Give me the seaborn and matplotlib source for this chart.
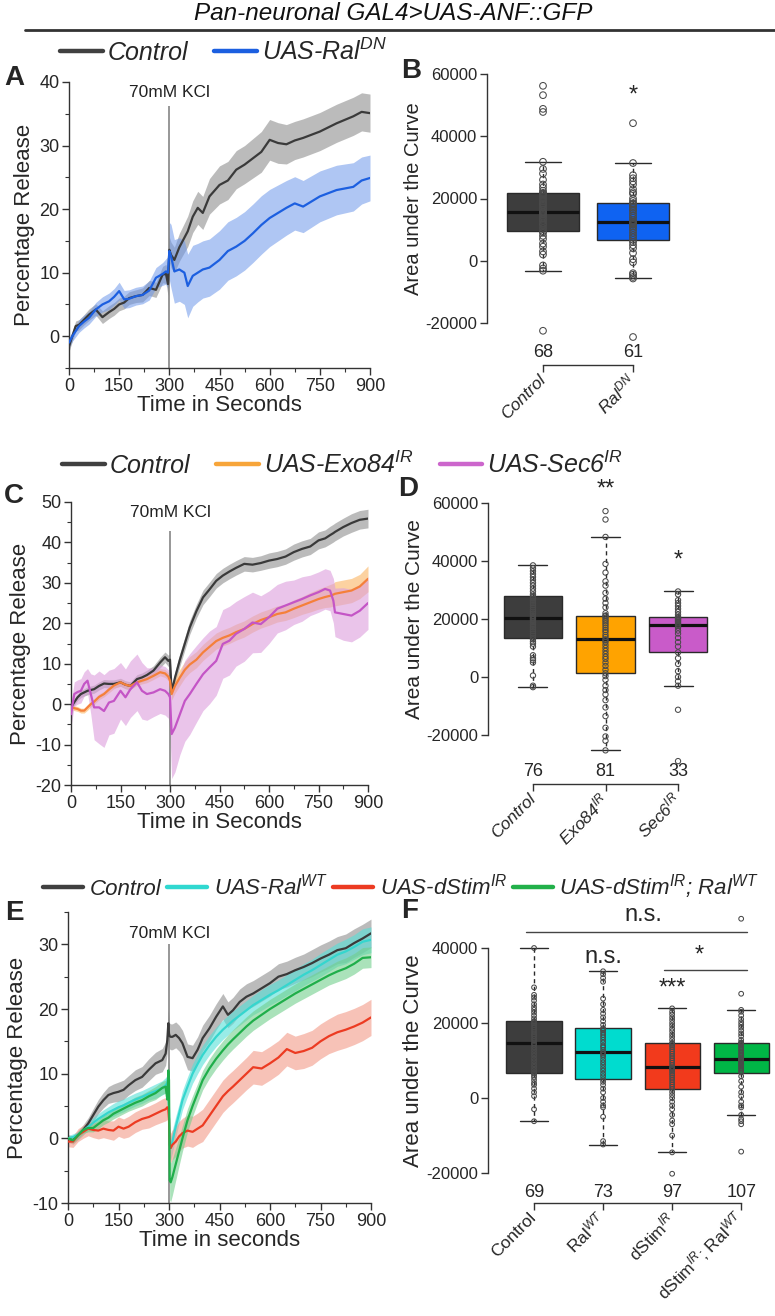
import numpy as np
import pandas as pd
import matplotlib
matplotlib.use("Agg")
import matplotlib.pyplot as plt
from matplotlib.lines import Line2D
from matplotlib.font_manager import FontProperties
import seaborn as sns

sns.set_style("ticks")
plt.rcParams["font.family"] = ["Liberation Sans", "DejaVu Sans"]
plt.rcParams["mathtext.fontset"] = "custom"
plt.rcParams["mathtext.rm"] = "Liberation Sans"
plt.rcParams["mathtext.it"] = "Liberation Sans:italic"
plt.rcParams["mathtext.bf"] = "Liberation Sans:bold"
plt.rcParams["axes.unicode_minus"] = False

# ---------------- data ----------------
KCL_TIME = 300
TIME_TICKS = [0, 150, 300, 450, 600, 750, 900]

# Panel A
A_time = [0, 10, 20, 30, 45, 60, 80, 100, 120, 135, 150, 165, 180, 200, 220, 240, 260, 280, 290, 296,
          300, 305, 315, 330, 345, 355, 370, 385, 400, 420, 450, 475, 500, 525, 550, 575, 600, 625, 650,
          675, 700, 750, 800, 850, 875, 900]
A_ctrl_mean = [-1.6, 0.0, 1.6, 1.8, 2.6, 3.4, 4.2, 3.0, 3.8, 4.3, 5.0, 5.3, 6.0, 6.3, 6.5, 7.6, 7.3, 9.7, 9.8, 8.2,
               13.6, 12.8, 12.0, 14.0, 15.5, 16.5, 18.8, 20.2, 19.4, 22.0, 23.8, 24.5, 26.2, 27.0, 28.0, 29.0,
               30.9, 30.4, 30.2, 30.8, 31.2, 32.2, 33.5, 34.6, 35.3, 35.1]
A_ctrl_sem = [0.8, 0.8, 0.8, 0.8, 0.8, 0.9, 0.9, 1.0, 1.0, 1.0, 1.0, 1.0, 1.0, 1.0, 1.1, 1.2, 1.2, 1.3, 1.5, 1.8,
              2.0, 2.0, 2.0, 2.2, 2.3, 2.4, 2.5, 2.6, 2.6, 2.8, 3.0, 3.0, 3.0, 3.0, 3.1, 3.2, 3.2, 3.2, 3.1,
              3.0, 3.0, 3.0, 3.0, 3.0, 3.0, 3.0]
A_raldn_mean = [-1.0, 0.0, 0.8, 1.6, 2.3, 2.9, 4.2, 5.0, 5.5, 6.2, 7.1, 5.8, 5.9, 6.3, 6.5, 7.2, 9.2, 9.8, 10.2, 10.0,
                13.4, 12.6, 10.2, 10.5, 10.0, 7.9, 9.5, 10.0, 10.5, 10.8, 12.0, 13.4, 14.1, 15.0, 16.2, 17.5,
                18.6, 19.4, 20.2, 20.9, 20.4, 22.0, 23.0, 23.5, 24.5, 24.9]
A_raldn_sem = [0.8, 0.8, 0.9, 1.0, 1.0, 1.0, 1.1, 1.2, 1.3, 1.3, 1.4, 1.4, 1.4, 1.4, 1.4, 1.5, 1.6, 1.8, 2.0, 2.5,
               4.5, 5.0, 5.0, 5.0, 5.0, 5.0, 4.8, 4.6, 4.5, 4.5, 4.6, 4.6, 4.6, 4.6, 4.6, 4.6, 4.5, 4.4, 4.3,
               4.2, 4.1, 4.0, 3.9, 3.8, 3.7, 3.6]

# Panel C
C_time = [0, 10, 20, 30, 40, 50, 60, 70, 85, 100, 115, 130, 150, 165, 180, 200, 215, 230, 250, 270, 285, 295,
          300, 305, 315, 330, 345, 360, 380, 400, 420, 440, 460, 480, 500, 525, 550, 575, 600, 625, 650, 675,
          700, 725, 750, 770, 785, 795, 800, 825, 850, 875, 900]
C_ctrl_mean = [-0.8, 0.5, 1.7, 2.5, 2.9, 3.3, 3.5, 3.7, 4.5, 5.1, 5.0, 5.0, 5.4, 4.8, 4.5, 6.2, 6.6, 7.2, 8.3, 10.3,
               11.6, 10.7, 11.0, 3.0, 6.5, 11.0, 15.0, 19.0, 23.0, 26.4, 28.4, 30.5, 31.8, 32.8, 33.7, 34.7,
               34.5, 34.9, 35.5, 35.9, 36.5, 37.6, 38.4, 39.0, 40.5, 41.0, 41.8, 42.3, 42.6, 43.8, 44.8, 45.6, 45.9]
C_ctrl_sem = [0.8, 0.8, 0.8, 0.9, 0.9, 1.0, 1.0, 1.0, 1.0, 1.0, 1.0, 1.0, 1.0, 1.0, 1.0, 1.1, 1.1, 1.2, 1.2, 1.3,
              1.3, 1.4, 1.5, 1.5, 1.5, 1.6, 1.6, 1.7, 1.7, 1.8, 1.8, 1.8, 1.8, 1.8, 1.8, 1.8, 1.8, 1.8, 1.9,
              1.9, 1.9, 2.0, 2.0, 2.0, 2.1, 2.1, 2.2, 2.2, 2.2, 2.2, 2.3, 2.3, 2.3]
C_exo_mean = [-0.8, -1.0, -1.2, -1.6, -1.6, -0.8, 0.0, 0.6, 1.8, 2.5, 3.6, 4.6, 5.4, 4.8, 4.5, 5.4, 5.8, 6.2, 7.0,
              7.9, 7.6, 6.8, 5.8, 2.5, 4.5, 6.6, 8.5, 9.8, 11.0, 12.8, 14.2, 15.6, 16.4, 17.0, 17.8, 18.6, 19.8,
              20.8, 21.5, 22.3, 22.7, 23.6, 24.4, 25.2, 26.0, 26.5, 26.8, 27.1, 27.3, 27.7, 28.1, 29.1, 31.0]
C_exo_sem = [0.6, 0.6, 0.6, 0.6, 0.6, 0.7, 0.7, 0.7, 0.7, 0.7, 0.8, 0.8, 0.8, 0.8, 0.8, 0.8, 0.8, 0.9, 0.9, 0.9,
             1.0, 1.0, 1.2, 1.5, 1.8, 2.0, 2.0, 2.0, 2.0, 2.0, 2.0, 2.0, 2.0, 2.0, 2.0, 2.0, 2.0, 2.0, 2.0,
             2.0, 2.0, 2.2, 2.2, 2.4, 2.5, 2.6, 2.8, 2.8, 3.0, 3.0, 3.0, 3.0, 3.2]
C_sec_mean = [-2.5, 2.5, 3.0, 3.3, 5.0, 5.8, 2.5, -0.8, -0.8, -1.7, 0.4, 0.8, 3.3, 1.7, 3.7, 5.4, 3.3, 2.5, 2.9,
              3.7, 3.3, 2.5, 1.7, -7.4, -5.8, -2.5, 0.8, 2.5, 5.0, 7.4, 9.1, 10.7, 14.9, 15.7, 17.4, 18.6, 20.2,
              19.8, 21.5, 23.6, 24.4, 25.2, 26.0, 26.9, 27.7, 28.5, 28.1, 25.6, 22.7, 22.3, 21.9, 23.1, 25.0]
C_sec_sem = [3, 3, 3, 3, 3, 3, 5, 8, 9, 9, 8, 8, 7, 7, 7, 7, 7, 6.5, 6, 6, 6, 6, 9, 11, 11, 10, 10, 10, 9.5, 9,
             9, 8.5, 8.5, 8.5, 8, 8, 7.5, 7, 6.5, 6, 6, 5.5, 5.5, 5, 5, 5, 5, 5.5, 6, 6.5, 6.5, 6.5, 6.5]

# Panel E
E_time = [0, 15, 30, 45, 60, 75, 90, 105, 120, 135, 150, 165, 180, 200, 220, 240, 260, 280, 290, 295, 298, 300,
          302, 305, 310, 320, 330, 340, 355, 370, 385, 400, 420, 440, 460, 475, 490, 510, 530, 550, 575, 600,
          625, 650, 675, 700, 725, 750, 775, 800, 825, 850, 875, 900]
E_ctrl_mean = [0.0, -0.3, 0.5, 1.3, 2.3, 3.6, 4.9, 5.9, 6.7, 7.0, 7.2, 7.5, 8.2, 9.0, 9.5, 10.6, 11.6, 12.1, 13.1,
               15.2, 17.8, 16.2, 15.8, 15.7, 15.7, 16.0, 15.5, 14.7, 12.6, 12.4, 13.7, 15.5, 17.0, 18.8, 20.4,
               19.1, 19.8, 21.1, 21.9, 22.4, 23.2, 24.0, 25.0, 25.4, 26.0, 26.5, 27.1, 27.8, 28.4, 29.1, 29.4,
               30.2, 30.9, 31.7]
E_ctrl_sem = [0.6, 0.6, 0.7, 0.8, 0.9, 1.0, 1.1, 1.2, 1.3, 1.4, 1.5, 1.5, 1.5, 1.6, 1.6, 1.7, 1.7, 1.8, 1.8, 1.9,
              2.0, 2.0, 2.0, 2.0, 2.0, 2.0, 2.0, 2.0, 2.0, 2.0, 2.0, 2.0, 2.0, 2.0, 2.0, 2.0, 2.0, 2.0, 2.0,
              2.0, 2.0, 2.0, 2.0, 2.0, 2.0, 2.0, 2.1, 2.1, 2.1, 2.1, 2.2, 2.2, 2.2, 2.2]
E_ralwt_mean = [0.0, 0.2, 0.6, 1.2, 1.8, 2.4, 3.0, 3.5, 4.0, 4.4, 4.8, 5.1, 5.5, 6.0, 6.4, 6.9, 7.3, 7.8, 8.2, 8.6,
                9.5, 4.0, -1.0, -1.5, -0.5, 1.8, 3.8, 5.9, 8.0, 10.0, 11.5, 12.9, 14.4, 15.7, 16.8, 17.5, 18.2,
                19.0, 19.8, 20.6, 21.4, 22.2, 22.9, 23.7, 24.5, 25.3, 26.0, 26.8, 27.6, 28.4, 28.9, 29.6, 30.4,
                30.7]
E_ralwt_sem = [0.4, 0.5, 0.5, 0.6, 0.7, 0.8, 0.8, 0.9, 0.9, 1.0, 1.0, 1.0, 1.0, 1.0, 1.0, 1.0, 1.1, 1.1, 1.2, 1.2,
               1.3, 1.5, 1.8, 1.8, 1.8, 1.6, 1.5, 1.5, 1.5, 1.5, 1.5, 1.5, 1.5, 1.5, 1.5, 1.5, 1.5, 1.5, 1.5,
               1.5, 1.6, 1.6, 1.6, 1.6, 1.7, 1.7, 1.7, 1.8, 1.8, 1.8, 1.9, 1.9, 2.0, 2.0]
E_dstim_mean = [-0.5, -0.5, 0.5, 1.0, 1.5, 1.3, 1.2, 1.5, 1.3, 1.2, 1.8, 1.5, 1.8, 2.5, 3.0, 3.3, 3.8, 4.3, 4.5, 4.8,
                4.5, 3.0, -1.0, -1.5, -1.0, -0.5, 0.3, 0.8, 1.2, 1.0, 1.5, 2.0, 3.5, 5.0, 6.5, 7.3, 8.0, 9.0,
                10.0, 11.0, 10.8, 11.6, 12.5, 13.8, 13.2, 13.5, 14.0, 15.0, 15.8, 16.4, 16.8, 17.3, 17.9, 18.7]
E_dstim_sem = [0.8, 0.9, 1.0, 1.0, 1.1, 1.2, 1.3, 1.4, 1.4, 1.5, 1.5, 1.5, 1.6, 1.6, 1.6, 1.7, 1.7, 1.8, 1.8, 1.9,
               2.0, 2.0, 2.2, 2.3, 2.3, 2.3, 2.3, 2.3, 2.4, 2.4, 2.4, 2.5, 2.5, 2.5, 2.5, 2.5, 2.5, 2.5, 2.5,
               2.6, 2.6, 2.6, 2.6, 2.6, 2.6, 2.7, 2.7, 2.7, 2.7, 2.8, 2.8, 2.8, 2.8, 2.8]
E_dstimral_mean = [0.0, -0.3, 0.5, 1.3, 1.6, 1.6, 2.2, 2.8, 3.2, 3.8, 4.2, 4.6, 5.0, 5.5, 5.9, 6.5, 7.0, 7.8, 8.0,
                   6.0, 10.5, 9.0, -6.5, -6.8, -6.0, -4.0, -2.0, 0.0, 2.8, 5.0, 7.0, 9.0, 10.8, 12.3, 13.6, 14.5,
                   15.3, 16.3, 17.3, 18.2, 19.1, 20.0, 20.8, 21.6, 22.4, 23.1, 23.8, 24.5, 25.2, 25.8, 26.3,
                   27.0, 27.9, 28.0]
E_dstimral_sem = [0.4, 0.4, 0.5, 0.5, 0.6, 0.6, 0.7, 0.7, 0.7, 0.8, 0.8, 0.8, 0.8, 0.9, 0.9, 0.9, 1.0, 1.0, 1.0,
                  1.2, 1.5, 2.0, 3.0, 3.0, 2.8, 2.5, 2.2, 2.0, 1.8, 1.6, 1.5, 1.5, 1.5, 1.5, 1.5, 1.5, 1.5, 1.5,
                  1.5, 1.5, 1.5, 1.5, 1.5, 1.5, 1.5, 1.5, 1.5, 1.5, 1.5, 1.6, 1.6, 1.6, 1.6, 1.6]

# Box panels: area under the curve, in thousands
B_control = [-22.5, -3.2, -2.5, -1.5, 2.0, 3.0, 4.5, 5.5, 7.0, 8.0, 9.0, 9.5, 10.5, 11.5, 12.0, 12.8, 13.5, 14.2,
             14.8, 15.2, 15.5, 15.7, 15.8, 16.5, 17.2, 18.0, 18.5, 19.2, 19.8, 20.5, 21.0, 21.3, 21.6, 21.8,
             22.5, 23.5, 24.5, 26.0, 28.0, 29.5, 31.8, 47.8, 48.8, 53.2, 56.2]
B_raldn = [-24.5, -5.7, -5.2, -4.5, -4.0, -0.5, 0.5, 2.5, 4.0, 5.0, 6.0, 6.7, 7.5, 8.2, 9.0, 9.8, 10.5, 11.0, 11.5,
           11.8, 12.0, 12.3, 12.5, 13.0, 13.8, 14.5, 15.2, 16.0, 16.5, 17.0, 17.5, 18.0, 18.3, 18.5, 19.2, 20.0,
           21.5, 22.0, 23.0, 24.5, 25.5, 26.5, 27.5, 31.4, 44.2]
D_control = [-3.5, -3.0, 0.5, 5.0, 5.8, 6.5, 7.5, 10.5, 11.5, 12.2, 13.0, 13.5, 14.2, 15.0, 15.8, 16.5, 17.2, 18.0,
             18.8, 19.3, 19.8, 20.2, 20.5, 21.0, 21.8, 22.5, 23.2, 24.0, 24.8, 25.5, 26.3, 27.0, 27.5, 27.8,
             28.5, 29.5, 30.5, 31.5, 32.5, 33.5, 34.5, 35.5, 36.5, 37.5, 38.5]
D_exo84 = [-25.3, -22.0, -20.5, -17.5, -13.5, -10.5, -8.0, -6.0, -4.5, -3.0, -1.0, 0.3, 1.3, 2.5, 3.8, 5.0, 6.2,
           7.0, 8.0, 9.0, 10.0, 11.0, 12.0, 12.6, 13.0, 13.8, 14.5, 15.5, 16.2, 17.0, 17.8, 18.5, 19.2, 19.8,
           20.5, 21.0, 21.2, 22.0, 24.0, 25.5, 27.0, 29.0, 31.5, 33.0, 36.0, 39.0, 48.3, 54.3, 57.2]
D_sec6 = [-29.0, -11.3, -3.0, -1.5, 0.0, 2.0, 4.5, 6.5, 8.5, 10.5, 12.0, 13.5, 15.0, 16.0, 17.0, 17.6, 18.0, 18.4,
          18.8, 19.2, 19.6, 19.9, 20.2, 20.5, 20.7, 21.5, 22.5, 23.5, 24.5, 25.5, 26.5, 28.5, 29.5]
F_control = [-6.2, -3.0, 0.5, 1.5, 2.5, 3.5, 4.0, 4.8, 5.5, 6.0, 6.5, 6.8, 7.5, 8.3, 9.0, 9.8, 10.5, 11.3, 12.0,
             12.8, 13.5, 14.2, 14.6, 15.2, 15.8, 16.5, 17.0, 17.6, 18.2, 18.8, 19.4, 19.9, 20.3, 20.5, 21.2,
             22.0, 22.8, 23.5, 24.2, 25.0, 26.0, 26.8, 27.5, 29.5, 40.0]
F_ralwt = [-12.4, -11.5, -5.0, -2.5, -2.0, -1.0, 0.0, 1.5, 2.5, 3.5, 4.3, 5.0, 5.8, 6.5, 7.3, 8.0, 8.8, 9.5, 10.2,
           11.0, 11.5, 11.9, 12.2, 12.8, 13.5, 14.0, 14.8, 15.5, 16.2, 16.8, 17.4, 18.0, 18.3, 18.6, 19.5, 20.5,
           21.5, 22.5, 23.5, 25.0, 26.5, 31.0, 32.0, 33.0, 33.8]
F_dstim = [-20.2, -14.5, -10.0, -7.0, -6.0, -4.5, -3.0, -2.0, -1.0, 0.0, 0.8, 1.6, 2.4, 3.0, 3.6, 4.2, 4.8, 5.4,
           6.0, 6.5, 7.0, 7.4, 7.8, 8.0, 8.2, 8.8, 9.4, 10.0, 10.6, 11.2, 11.8, 12.4, 13.0, 13.6, 14.1, 14.5,
           14.7, 15.5, 16.3, 17.0, 17.8, 18.5, 19.3, 20.0, 20.8, 21.5, 22.3, 23.0, 23.9]
F_dstim_ralwt = [-14.3, -7.0, -6.2, -5.6, -4.5, -2.5, -2.0, -1.0, 0.5, 1.5, 3.0, 4.5, 5.8, 6.8, 7.2, 7.6, 8.0, 8.4,
                 8.7, 9.0, 9.3, 9.6, 9.9, 10.1, 10.3, 10.4, 10.5, 10.8, 11.2, 11.6, 12.0, 12.4, 12.8, 13.2, 13.6,
                 14.0, 14.3, 14.5, 14.7, 14.8, 15.5, 16.5, 17.2, 18.0, 18.8, 19.5, 20.2, 21.0, 22.0, 23.0, 23.5,
                 27.8, 47.8]

B_n = [68, 61]
D_n = [76, 81, 33]
F_n = [69, 73, 97, 107]
B_labels = ["Control", "Ral$^{DN}$"]
D_labels = ["Control", "Exo84$^{IR}$", "Sec6$^{IR}$"]
F_labels = ["Control", "Ral$^{WT}$", "dStim$^{IR}$", "dStim$^{IR}$; Ral$^{WT}$"]

# ---------------- styling ----------------
W, H = 775, 1316
fig = plt.figure(figsize=(W / 100, H / 100), dpi=100)
SPINE = "#333333"


def add_ax(l, t, r, b):
    return fig.add_axes([l / W, 1 - b / H, (r - l) / W, (b - t) / H])


def style_spines(ax):
    for s in ["top", "right"]:
        ax.spines[s].set_visible(False)
    for s in ["left", "bottom"]:
        ax.spines[s].set_color(SPINE)
        ax.spines[s].set_linewidth(1.0)


def line_panel(ax, time, series, ylim, yticks, yminor, xlabel, kcl_top, kcl_text_y):
    frames = []
    for name, mean, sem, lc, bc, ba in series:
        m = np.array(mean, dtype=float)
        s = np.array(sem, dtype=float)
        ax.fill_between(time, m - s, m + s, color=bc, alpha=ba, lw=0, zorder=1)
        frames.append(pd.DataFrame({"time": time, "value": m, "series": name}))
    df = pd.concat(frames, ignore_index=True)
    pal = {name: lc for name, mean, sem, lc, bc, ba in series}
    sns.lineplot(data=df, x="time", y="value", hue="series", palette=pal, estimator=None,
                 errorbar=None, legend=False, lw=1.6, ax=ax, zorder=3)
    ax.vlines(KCL_TIME, ylim[0], kcl_top, color="#7a7a7a", lw=1.1, zorder=2.5)
    ax.text(KCL_TIME, kcl_text_y, "70mM KCl", ha="center", va="center", fontsize=12.5, color="#222")
    ax.set_xlim(0, 900)
    ax.set_ylim(*ylim)
    ax.set_xticks(TIME_TICKS)
    ax.set_xticks([75, 225, 375, 525, 675, 825], minor=True)
    ax.set_yticks(yticks)
    ax.set_yticks(yminor, minor=True)
    ax.tick_params(which="major", length=5, width=1, labelsize=13, direction="out", color=SPINE, pad=2)
    ax.tick_params(which="minor", length=3, width=0.8, direction="out", color=SPINE)
    ax.set_xlabel(xlabel, fontsize=16, labelpad=0)
    ax.set_ylabel("Percentage Release", fontsize=16, labelpad=3)
    style_spines(ax)


def box_panel(ax, groups, colors, labels, ns, xlim, ylim, yticks, spine_off, n_off, italic,
              msize, ylabsize, ticksize):
    names = [g for g, v in groups]
    df = pd.concat([pd.DataFrame({"group": g, "value": np.array(v) * 1000.0}) for g, v in groups],
                   ignore_index=True)
    sns.boxplot(data=df, x="group", y="value", hue="group", order=names, hue_order=names,
                palette=dict(zip(names, colors)), width=0.8, saturation=1, showfliers=False, whis=1.5,
                linecolor="#2a2a2a", linewidth=1.0, legend=False, ax=ax,
                whiskerprops=dict(linestyle=(0, (3, 2.5))),
                medianprops=dict(linewidth=2.3, color="#111111"))
    sns.stripplot(data=df, x="group", y="value", order=names, jitter=False, size=msize,
                  color="#4a4a4a", facecolor="none", edgecolor="#4a4a4a", linewidth=0.75, ax=ax, zorder=5)
    for c in ax.collections:
        c.set_facecolor("none")
        c.set_clip_on(False)
    for art in ax.lines + ax.patches:
        art.set_clip_on(False)
    n = len(names)
    ax.set_xlim(*xlim)
    ax.set_ylim(*ylim)
    ax.set_yticks(yticks)
    style_spines(ax)
    ax.spines["bottom"].set_position(("outward", spine_off))
    ax.spines["bottom"].set_bounds(0, n - 1)
    ax.set_xticks(range(n))
    ax.set_xticklabels(labels, rotation=45, ha="right", va="center", rotation_mode="anchor",
                       fontstyle="italic" if italic else "normal", fontsize=ticksize)
    ax.tick_params(axis="x", length=5, width=1, color=SPINE, pad=4)
    ax.tick_params(axis="y", length=5, width=1, color=SPINE, labelsize=12, pad=2)
    ax.set_xlabel("")
    ax.set_ylabel("Area under the Curve", fontsize=ylabsize, labelpad=2)
    for i, nn in enumerate(ns):
        ax.annotate(str(nn), xy=(i, 0), xycoords=("data", "axes fraction"), xytext=(0, -n_off),
                    textcoords="offset points", ha="center", va="center", fontsize=13,
                    annotation_clip=False)


# ---------------- Title ----------------
fig.text(393 / W, 1 - 14 / H, "Pan-neuronal GAL4>UAS-ANF::GFP", ha="center", va="center",
         fontstyle="italic", fontsize=17.5, color="#111")
fig.add_artist(Line2D([25 / W, 1.0], [1 - 30 / H, 1 - 30 / H], transform=fig.transFigure,
                      color="#333", lw=2.0))

CTRL_LINE, CTRL_BAND = "#3a3a3a", "#8f8f8f"

# ---------------- Panel A ----------------
axA = add_ax(69, 82, 370, 368)
line_panel(axA, A_time,
           [("Control", A_ctrl_mean, A_ctrl_sem, CTRL_LINE, CTRL_BAND, 0.6),
            ("RalDN", A_raldn_mean, A_raldn_sem, "#1c5fe0", "#6d97ea", 0.55)],
           (-5, 40), [0, 10, 20, 30, 40], [-5, 5, 15, 25, 35], "Time in Seconds", 36.3, 38.3)

# ---------------- Panel B ----------------
axB = add_ax(487, 74, 689, 323)
box_panel(axB, [("Control", B_control), ("RalDN", B_raldn)], ["#3d3d3d", "#0f63f2"], B_labels, B_n,
          (-0.622, 1.622), (-20000, 60000), [-20000, 0, 20000, 40000, 60000], 30.2, 20.9, True,
          4.8, 14.5, 12.5)
axB.text(1, 53000, "*", ha="center", va="center", fontsize=17)

# ---------------- Panel C ----------------
axC = add_ax(71, 502, 368, 785)
line_panel(axC, C_time,
           [("Control", C_ctrl_mean, C_ctrl_sem, CTRL_LINE, CTRL_BAND, 0.6),
            ("Exo84", C_exo_mean, C_exo_sem, "#f5803a", "#fbc07a", 0.7),
            ("Sec6", C_sec_mean, C_sec_sem, "#c455c6", "#dc9edc", 0.6)],
           (-20, 50), [-20, -10, 0, 10, 20, 30, 40, 50], [-15, -5, 5, 15, 25, 35, 45],
           "Time in Seconds", 42.8, 47.5)

# ---------------- Panel D ----------------
axD = add_ax(488, 503, 723, 735)
box_panel(axD, [("Control", D_control), ("Exo84", D_exo84), ("Sec6", D_sec6)],
          ["#3d3d3d", "#ffa300", "#c95bc9"], D_labels, D_n,
          (-0.62, 2.62), (-20000, 60000), [-20000, 0, 20000, 40000, 60000], 35.3, 26.6, True,
          3.8, 15, 12.5)
axD.text(1, 64500, "**", ha="center", va="center", fontsize=17, clip_on=False)
axD.text(2, 40300, "*", ha="center", va="center", fontsize=17)

# ---------------- Panel E ----------------
axE = add_ax(68, 912, 371, 1203)
line_panel(axE, E_time,
           [("Control", E_ctrl_mean, E_ctrl_sem, CTRL_LINE, CTRL_BAND, 0.6),
            ("RalWT", E_ralwt_mean, E_ralwt_sem, "#35d6ce", "#55e0d8", 0.6),
            ("dStim", E_dstim_mean, E_dstim_sem, "#ec3b22", "#f39a88", 0.6),
            ("dStimRal", E_dstimral_mean, E_dstimral_sem, "#1fae4a", "#72cf8c", 0.6)],
           (-10, 35), [-10, 0, 10, 20, 30], [-5, 5, 15, 25, 35], "Time in seconds", 30, 31.7)

# ---------------- Panel F ----------------
axF = add_ax(488, 948, 775, 1173)
box_panel(axF, [("Control", F_control), ("RalWT", F_ralwt), ("dStim", F_dstim), ("dStimRal", F_dstim_ralwt)],
          ["#3d3d3d", "#00dccf", "#f23a1c", "#00b646"], F_labels, F_n,
          (-0.667, 3.49), (-20000, 40000), [-20000, 0, 20000, 40000], 21.6, 13.7, False,
          3.4, 16, 12.5)
axF.text(1, 37600, "n.s.", ha="center", va="center", fontsize=17)
axF.text(2, 29300, "***", ha="center", va="center", fontsize=17)
axF.text(2.39, 38000, "*", ha="center", va="center", fontsize=17)
axF.plot([1.88, 3.09], [34100, 34100], color="#444", lw=1.0)
axF.text(1.58, 48800, "n.s.", ha="center", va="center", fontsize=17, clip_on=False)
axF.plot([-0.12, 3.09], [44300, 44300], color="#444", lw=1.0, clip_on=False)

# ---------------- Legends ----------------
leg_font_big = FontProperties(family=["Liberation Sans", "DejaVu Sans"], style="italic", size=18)
leg_font_small = FontProperties(family=["Liberation Sans", "DejaVu Sans"], style="italic", size=16)


def row_legend(labels, colors, x, y, prop, hl, htp, cs):
    handles = [Line2D([], [], color=c, lw=3.2) for c in colors]
    fig.legend(handles, labels, loc="center left", bbox_to_anchor=(x / W, 1 - y / H), ncol=len(labels),
               frameon=False, prop=prop, handlelength=hl, handletextpad=htp, columnspacing=cs,
               borderpad=0, borderaxespad=0)


row_legend(["Control", "UAS-Ral$^{DN}$"], ["#404040", "#1c5fe0"], 60, 52, leg_font_big, 1.7, 0.2, 1.05)
row_legend(["Control", "UAS-Exo84$^{IR}$", "UAS-Sec6$^{IR}$"], ["#404040", "#f7a53a", "#cc66cc"],
           62, 465, leg_font_big, 1.7, 0.2, 1.05)
row_legend(["Control", "UAS-Ral$^{WT}$", "UAS-dStim$^{IR}$", "UAS-dStim$^{IR}$; Ral$^{WT}$"],
           ["#404040", "#30d8d0", "#ec3b22", "#22b04a"], 43, 887, leg_font_small, 1.8, 0.3, 0.25)

# ---------------- Panel letters ----------------
for letter, (x, y) in {"A": (14, 78), "B": (411, 71), "C": (14, 496), "D": (408, 489),
                       "E": (14, 913), "F": (410, 911)}.items():
    fig.text(x / W, 1 - y / H, letter, ha="center", va="center", fontsize=20, fontweight="bold")

fig.savefig("out.png", dpi=100)
